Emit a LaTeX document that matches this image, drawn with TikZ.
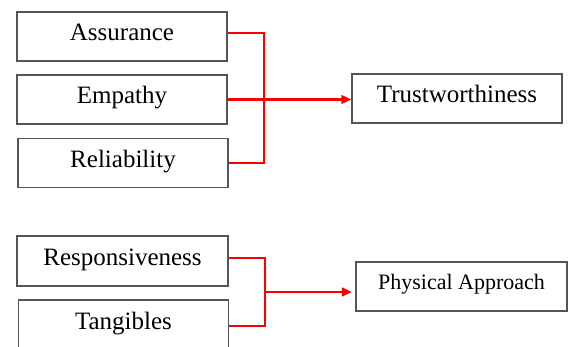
\documentclass[tikz,border=0pt]{standalone}
\usepackage{fontspec}
\setmainfont{Liberation Serif}
\usetikzlibrary{arrows.meta}
\definecolor{boxgray}{RGB}{85,85,85}
\definecolor{linkred}{RGB}{250,0,0}
\begin{document}
\begin{tikzpicture}[x=1pt,y=-1pt,
  box/.style={draw=boxgray, line width=1.3pt, rectangle, minimum width=210pt,
    minimum height=49pt, inner sep=0pt, text height=29pt, text depth=20pt,
    font=\fontsize{25}{30}\selectfont},
  link/.style={draw=linkred, line width=2.5pt},
  tip/.style={-{Triangle[length=10pt,width=8.5pt]}}]
\useasboundingbox (0,0) rectangle (569,347);
\node[box] (as) at (122,36.5) {Assurance};
\node[box] (em) at (122,99.5) {Empathy};
\node[box] (re) at (123,163) {Reliability};
\node[box] (tw) at (457,98.5) {Trustworthiness};
\node[box, minimum width=211pt, minimum height=50pt] (rs) at (122.5,261) {Responsiveness};
\node[box] (tg) at (123.5,324.5) {Tangibles};
\node[box, minimum width=211pt, text height=27pt, text depth=22pt,
  font=\fontsize{22}{26}\selectfont] (pa) at (461.5,286.5) {Physical Approach};
\coordinate (j1) at (264,0);
\coordinate (j2) at (265,0);
\coordinate (m2) at (265,292);
\draw[link, line join=miter] ([yshift=3.5pt]as.east) -| (j1 |- re.east) -- (re.east);
\draw[link, tip] (em.east) -- (em.east -| tw.west);
\draw[link, line join=miter] ([yshift=3pt]rs.east) -| ([yshift=-1.5pt]j2 |- tg.east) -- ([yshift=-1.5pt]tg.east);
\draw[link, tip, shorten >=3.5pt] (m2) -- (m2 -| pa.west);
\end{tikzpicture}
\end{document}
